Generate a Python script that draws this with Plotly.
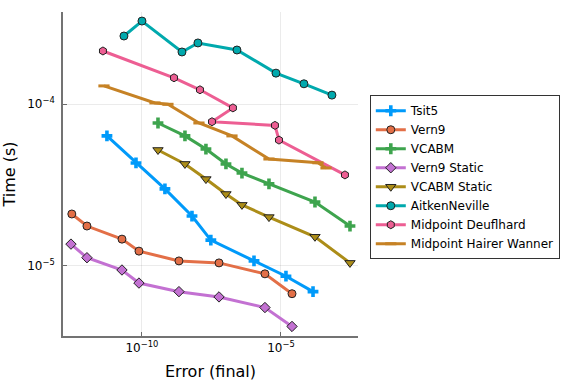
import plotly.graph_objects as go

# ---- data (Error (final), Time (s)) ----
tsit5_err = [5.5e-12, 6.1e-11, 6.7e-10, 6.3e-9, 3.0e-8, 1.07e-6, 1.51e-5, 1.42e-4]
tsit5_time = [6.37e-5, 4.33e-5, 2.99e-5, 2.03e-5, 1.44e-5, 1.07e-5, 8.6e-6, 6.9e-6]

vern9_err = [3.0e-13, 1.05e-12, 1.91e-11, 7.8e-11, 2.14e-9, 5.9e-8, 2.65e-6, 2.49e-5]
vern9_time = [2.09e-5, 1.76e-5, 1.46e-5, 1.23e-5, 1.07e-5, 1.04e-5, 8.9e-6, 6.7e-6]

vcabm_err = [3.77e-10, 3.52e-9, 2.0e-8, 1.05e-7, 3.95e-7, 3.7e-6, 1.67e-4, 3.03e-3]
vcabm_time = [7.66e-5, 6.37e-5, 5.28e-5, 4.27e-5, 3.75e-5, 3.21e-5, 2.48e-5, 1.76e-5]

vern9s_err = [2.8e-13, 1.05e-12, 1.91e-11, 7.8e-11, 2.14e-9, 5.9e-8, 2.65e-6, 2.49e-5]
vern9s_time = [1.36e-5, 1.12e-5, 9.4e-6, 7.8e-6, 6.9e-6, 6.4e-6, 5.5e-6, 4.2e-6]

vcabms_err = [3.77e-10, 3.52e-9, 2.0e-8, 1.05e-7, 3.95e-7, 3.7e-6, 1.67e-4, 3.03e-3]
vcabms_time = [5.21e-5, 4.27e-5, 3.44e-5, 2.78e-5, 2.38e-5, 2.0e-5, 1.51e-5, 1.04e-5]

aitken_err = [2.25e-11, 1.0e-10, 2.75e-9, 1.03e-8, 2.61e-7, 6.6e-6, 6.7e-5, 6.8e-4]
aitken_time = [2.65e-4, 3.28e-4, 2.11e-4, 2.4e-4, 2.17e-4, 1.56e-4, 1.34e-4, 1.14e-4]

deuf_err = [3.95e-12, 1.42e-9, 1.22e-8, 1.87e-7, 3.3e-8, 6.08e-6, 8.47e-6, 2.0e-3]
deuf_time = [2.14e-4, 1.46e-4, 1.23e-4, 9.5e-5, 7.8e-5, 7.4e-5, 6.0e-5, 3.65e-5]

hw_err = [4.3e-12, 2.94e-10, 8.6e-10, 1.12e-8, 1.73e-7, 3.7e-6, 2.14e-4, 4.16e-4]
hw_time = [1.30e-4, 1.02e-4, 1.0e-4, 7.66e-5, 6.37e-5, 4.58e-5, 4.34e-5, 4.03e-5]

x_tickvals = [1e-10, 1e-5]
x_ticktext = ["10<sup>\u221210</sup>", "10<sup>\u22125</sup>"]
y_tickvals = [1e-5, 1e-4]
y_ticktext = ["10<sup>\u22125</sup>", "10<sup>\u22124</sup>"]

series = [
    ("Tsit5", tsit5_err, tsit5_time, "#009AFA", "cross", 0),
    ("Vern9", vern9_err, vern9_time, "#E36F47", "circle", 1),
    ("VCABM", vcabm_err, vcabm_time, "#3EA44E", "cross", 0),
    ("Vern9 Static", vern9s_err, vern9s_time, "#C371D2", "diamond", 1),
    ("VCABM Static", vcabms_err, vcabms_time, "#AC8D18", "triangle-down", 1),
    ("AitkenNeville", aitken_err, aitken_time, "#00A9AD", "circle", 1),
    ("Midpoint Deuflhard", deuf_err, deuf_time, "#ED5E93", "hexagon", 1),
    ("Midpoint Hairer Wanner", hw_err, hw_time, "#C68225", "line-ew", 0),
]

fig = go.Figure()
for name, xs, ys, color, sym, lw in series:
    if sym == "line-ew":
        marker = dict(symbol=sym, size=8, line=dict(color=color, width=3))
    elif sym == "cross":
        marker = dict(symbol=sym, size=9, color=color, line=dict(width=0))
    else:
        marker = dict(symbol=sym, size=8 if sym != "triangle-down" else 9,
                      color=color, line=dict(color="#222222", width=lw))
    fig.add_trace(go.Scatter(
        x=xs, y=ys, name=name, mode="lines+markers",
        line=dict(color=color, width=3), marker=marker,
    ))

axis_common = dict(
    type="log", showline=True, linecolor="rgba(0,0,0,0.55)", linewidth=1.5,
    mirror=False, showgrid=True, gridcolor="rgba(0,0,0,0.08)", gridwidth=1,
    ticks="inside", ticklen=4, tickcolor="rgba(0,0,0,0.55)",
    zeroline=False, tickfont=dict(size=12, color="black"), automargin=False,
)

fig.update_layout(
    width=576, height=384,
    margin=dict(l=63, r=218, t=12, b=48, autoexpand=False),
    paper_bgcolor="white", plot_bgcolor="white",
    font=dict(family="DejaVu Sans", color="black"),
    xaxis=dict(axis_common, range=[-12.84, -2.23], tickvals=x_tickvals, ticktext=x_ticktext,
               title=dict(text="Error (final)", font=dict(size=16), standoff=12)),
    yaxis=dict(axis_common, range=[-5.436, -3.428], tickvals=y_tickvals, ticktext=y_ticktext,
               ticklabelstandoff=4,
               title=dict(text="Time (s)", font=dict(size=16), standoff=10)),
    legend=dict(x=1.04, y=0.49, xanchor="left", yanchor="middle",
                bordercolor="rgba(0,0,0,0.8)", borderwidth=1, bgcolor="white",
                font=dict(size=12), tracegroupgap=0, itemwidth=30),
    showlegend=True,
)

fig.write_html("out.html", config={"displayModeBar": False},
               post_script="document.body.style.margin='0';")
